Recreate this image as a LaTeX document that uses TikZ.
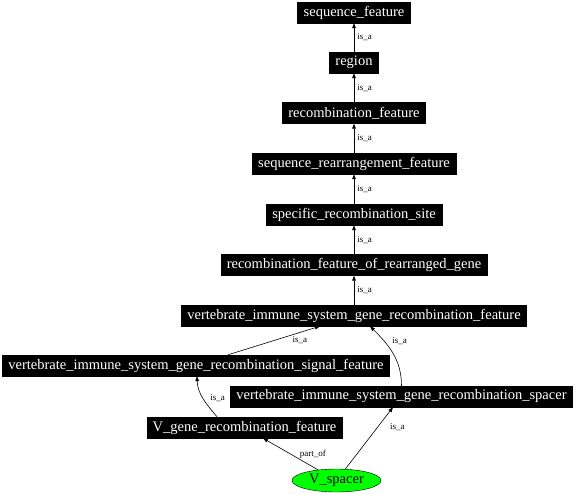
\documentclass[tikz,border=0pt]{standalone}
\usepackage{fontspec}
\setmainfont{Liberation Serif}
\usepackage{tikz}
\usetikzlibrary{arrows.meta,shapes.geometric}
\definecolor{ink}{HTML}{000000}
\definecolor{paper}{HTML}{FFFFFF}
\definecolor{leafgreen}{HTML}{00FF00}
\tikzset{
  term/.style={fill=ink, draw=ink, text=paper, inner xsep=6pt, inner ysep=0pt,
    minimum height=21pt, font=\fontsize{14.5}{15}\selectfont},
  leaf/.style={ellipse, draw=ink, fill=leafgreen, text=ink, inner sep=0pt,
    minimum width=89pt, minimum height=23pt, font=\fontsize{14.5}{15}\selectfont},
  rel/.style={draw=ink, line width=0.6pt, -{Triangle[length=5pt,width=3.6pt]}},
  lab/.style={text=ink, inner sep=1pt, font=\fontsize{9}{9}\selectfont},
}

\begin{document}
\begin{tikzpicture}[x=1pt,y=-1pt]
  \useasboundingbox[fill=paper] (0,0) rectangle (576,495);

  % chain of is_a terms
  \node[term] (seqfeat) at (354,12.5)  {sequence\_feature};
  \node[term] (region)  at (354,62.5)  {region};
  \node[term] (recfeat) at (354,113)   {recombination\_feature};
  \node[term] (rearr)   at (354,163.5) {sequence\_rearrangement\_feature};
  \node[term] (site)    at (354,214.5) {specific\_recombination\_site};
  \node[term] (rgene)   at (354,265)   {recombination\_feature\_of\_rearranged\_gene};
  \node[term] (visgrf)  at (354,315.5) {vertebrate\_immune\_system\_gene\_recombination\_feature};
  \node[term] (signal)  at (196,365.5) {vertebrate\_immune\_system\_gene\_recombination\_signal\_feature};
  \node[term] (spacer)  at (401.5,396.5) {vertebrate\_immune\_system\_gene\_recombination\_spacer};
  \node[term] (vgene)   at (244.5,427.5) {V\_gene\_recombination\_feature};
  \node[leaf] (vspacer) at (336.5,480.5) {V\_spacer};

  \draw[rel] (region)  -- node[lab,right=2pt] {is\_a} (seqfeat);
  \draw[rel] (recfeat) -- node[lab,right=2pt] {is\_a} (region);
  \draw[rel] (rearr)   -- node[lab,right=2pt] {is\_a} (recfeat);
  \draw[rel] (site)    -- node[lab,right=2pt] {is\_a} (rearr);
  \draw[rel] (rgene)   -- node[lab,right=2pt] {is\_a} (site);
  \draw[rel] (visgrf)  -- node[lab,right=2pt] {is\_a} (rgene);

  \draw[rel] ([xshift=32pt]signal.north) -- node[lab,pos=0.78,below=3pt] {is\_a} ([xshift=-34pt]visgrf.south);
  \draw[rel] (spacer.north) to[out=90,in=-45] node[lab,pos=0.72,right=7pt] {is\_a} ([xshift=16pt]visgrf.south);
  \draw[rel] ([xshift=-27.5pt]vgene.north) to[out=130,in=-88] node[lab,pos=0.5,right=6pt] {is\_a} ([xshift=1pt]signal.south);
  \draw[rel] (vspacer) -- node[lab,pos=0.5,right=8pt] {part\_of} ([xshift=18.5pt]vgene.south);
  \draw[rel] (vspacer) -- node[lab,pos=0.68,right=11pt] {is\_a} ([xshift=-8.5pt]spacer.south);
\end{tikzpicture}
\end{document}
